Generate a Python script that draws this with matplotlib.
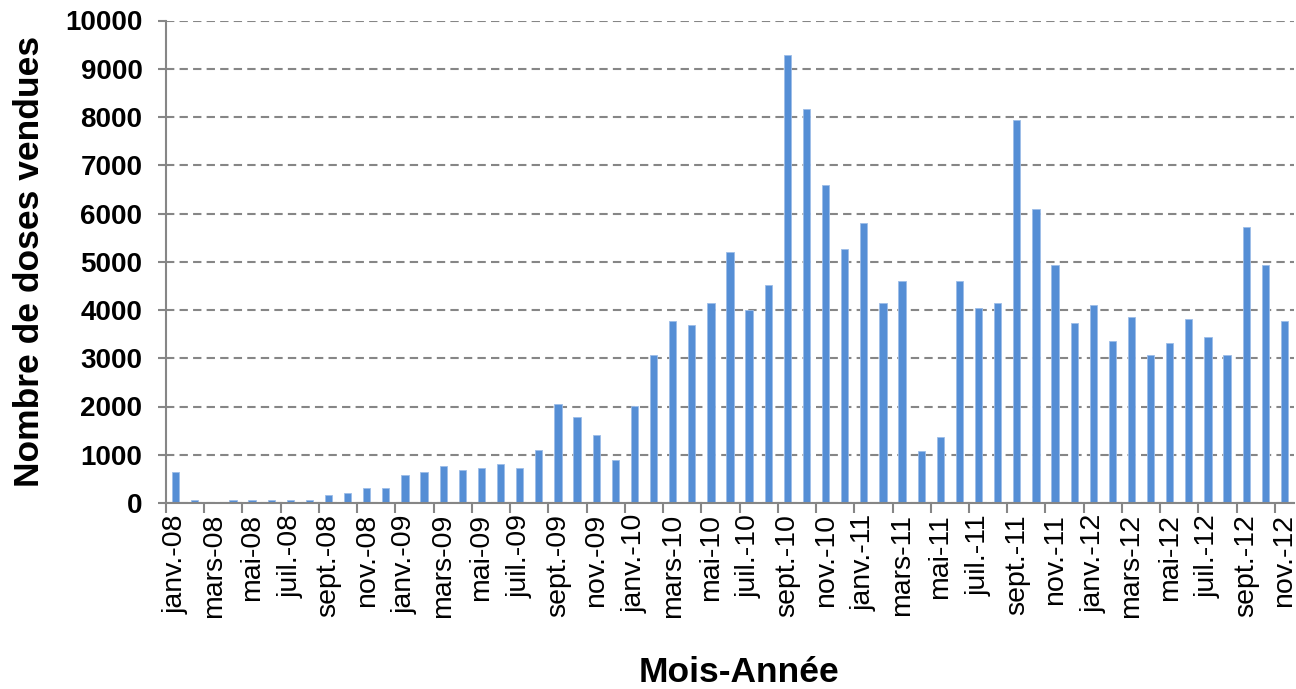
import matplotlib
matplotlib.use("Agg")
import matplotlib.pyplot as plt
import numpy as np

plt.rcParams['font.family'] = ['Liberation Sans', 'DejaVu Sans']

month_abbr = ["janv.", "févr.", "mars", "avr.", "mai", "juin",
              "juil.", "août", "sept.", "oct.", "nov.", "déc."]
years = ["08", "09", "10", "11", "12"]
categories = [f"{m}-{y}" for y in years for m in month_abbr][:59]

values = [634, 70, 10, 70, 70, 70, 70, 70, 162, 204, 303, 303,
          585, 634, 775, 683, 725, 815, 720, 1090, 2053, 1776, 1403, 898,
          2004, 3075, 3773, 3684, 4140, 5211, 4001, 4513, 9288, 8176, 6600, 5259,
          5812, 4140, 4603, 1078, 1361, 4603, 4050, 4140, 7947, 6088, 4927, 3725,
          4098, 3352, 3863, 3075, 3310, 3822, 3449, 3075, 5722, 4927, 3773]

yticks = list(range(0, 10001, 1000))

fig = plt.figure(figsize=(12.96, 6.89), dpi=100)
ax = fig.add_axes([166/1296, 1 - 503/689, (1294 - 166)/1296, (503 - 20.5)/689])

x = np.arange(len(categories))
ax.bar(x, values, width=0.38, color='#558ED5', edgecolor='#9DBDE8',
       linewidth=0.6, zorder=3)

ax.set_xlim(-0.5, len(categories) - 0.5)
ax.set_ylim(0, 10000)
ax.set_yticks(yticks)
ax.set_yticklabels([str(v) for v in yticks], fontsize=20, fontweight='bold')

ax.set_xticks(x[::2])
ax.set_xticklabels(categories[::2], rotation=90, fontsize=20.5)
ax.set_xticks(np.arange(-0.5, len(categories), 2), minor=True)
ax.tick_params(axis='x', which='major', length=0, pad=8)
ax.tick_params(axis='x', which='minor', length=7, width=1.5, color='#868686')
ax.tick_params(axis='y', length=6, width=1.5, color='#868686', pad=11)

ax.yaxis.grid(True, linestyle=(0, (4, 2.5)), color='#868686', linewidth=1.5, zorder=0)
ax.set_axisbelow(True)

for s in ['top', 'right']:
    ax.spines[s].set_visible(False)
for s in ['left', 'bottom']:
    ax.spines[s].set_color('#868686')
    ax.spines[s].set_linewidth(1.5)
ax.spines['bottom'].set_zorder(4)

ax.set_ylabel("Nombre de doses vendues", fontsize=25.5, fontweight='bold')
ax.yaxis.set_label_coords(-120/1128, 0.5)
fig.text(739/1296, 1 - 673/689, "Mois-Année", fontsize=25.5, fontweight='bold',
         ha='center', va='center')

fig.savefig("out.png", dpi=100)
